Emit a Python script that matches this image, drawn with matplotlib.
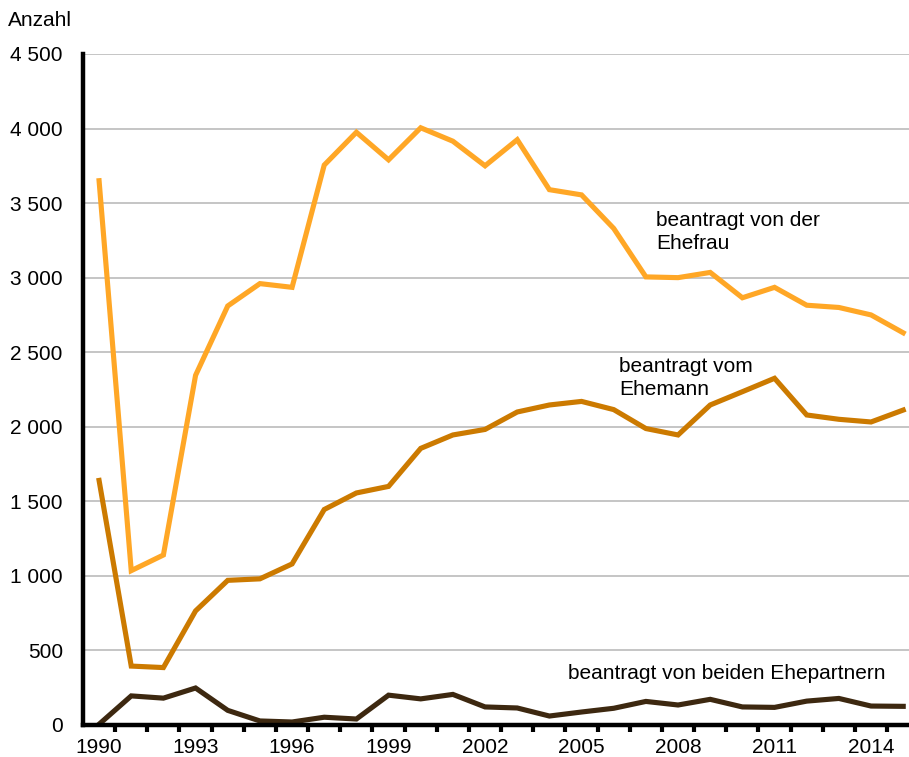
import numpy as np
import matplotlib.pyplot as plt
from matplotlib.ticker import FuncFormatter, MultipleLocator

plt.rcParams['font.family'] = ['Liberation Sans', 'DejaVu Sans']

years = list(range(1990, 2016))

ehefrau = [3650, 1035, 1140, 2345, 2810, 2960, 2935, 3755, 3975, 3790,
           4005, 3915, 3750, 3925, 3590, 3555, 3330, 3005, 3000, 3035,
           2865, 2935, 2815, 2800, 2750, 2630]
ehemann = [1640, 395, 385, 765, 970, 980, 1080, 1445, 1556, 1600,
           1855, 1945, 1982, 2099, 2146, 2170, 2115, 1988, 1945, 2146,
           2235, 2325, 2079, 2050, 2032, 2112]
beide = [5, 195, 180, 248, 98, 27, 20, 52, 40, 200,
         175, 205, 121, 114, 60, 87, 112, 158, 134, 172,
         121, 118, 160, 178, 127, 125]

labels = ["beantragt von der\nEhefrau", "beantragt vom\nEhemann",
          "beantragt von beiden Ehepartnern"]
colors = ["#FFA726", "#CC7A00", "#3D2810"]

fig = plt.figure(figsize=(9.09, 7.57), dpi=100)
ax = fig.add_axes([0.0913, 0.0423, 0.9087, 0.8864])

for s, c in zip([ehefrau, ehemann, beide], colors):
    ax.plot(years, s, color=c, lw=3.7, solid_joinstyle='miter', zorder=3)

ax.set_ylim(0, 4500)
ax.set_xlim(1989.5, 2015.18)
ax.yaxis.set_major_locator(MultipleLocator(500))
ax.yaxis.set_major_formatter(FuncFormatter(lambda v, p: f"{int(v):,}".replace(",", " ")))
ax.grid(axis='y', color='#BBBBBB', lw=1.2, zorder=0)
ax.set_axisbelow(True)

ax.set_xticks(years[::3])
ax.set_xticks(np.arange(1990.5, 2015.5, 1), minor=True)
ax.tick_params(axis='x', which='major', length=0, labelsize=15, pad=9.5)
ax.tick_params(axis='x', which='minor', length=5, width=3, direction='out', color='black')
ax.tick_params(axis='y', length=0, labelsize=15, pad=14.5)

for side in ['top', 'right']:
    ax.spines[side].set_visible(False)
ax.spines['left'].set_linewidth(3.2)
ax.spines['bottom'].set_linewidth(3.2)
ax.spines['left'].set_zorder(4)
ax.spines['bottom'].set_zorder(4)

ax.text(2007.32, 3306, labels[0], fontsize=15, va='center', ha='left', linespacing=1.25)
ax.text(2006.17, 2327, labels[1], fontsize=15, va='center', ha='left', linespacing=1.25)
ax.text(2004.58, 342, labels[2], fontsize=15, va='center', ha='left')

fig.text(8 / 909, 1 - 20 / 757, "Anzahl", fontsize=15, va='center', ha='left')

plt.savefig("out.png", dpi=100)
